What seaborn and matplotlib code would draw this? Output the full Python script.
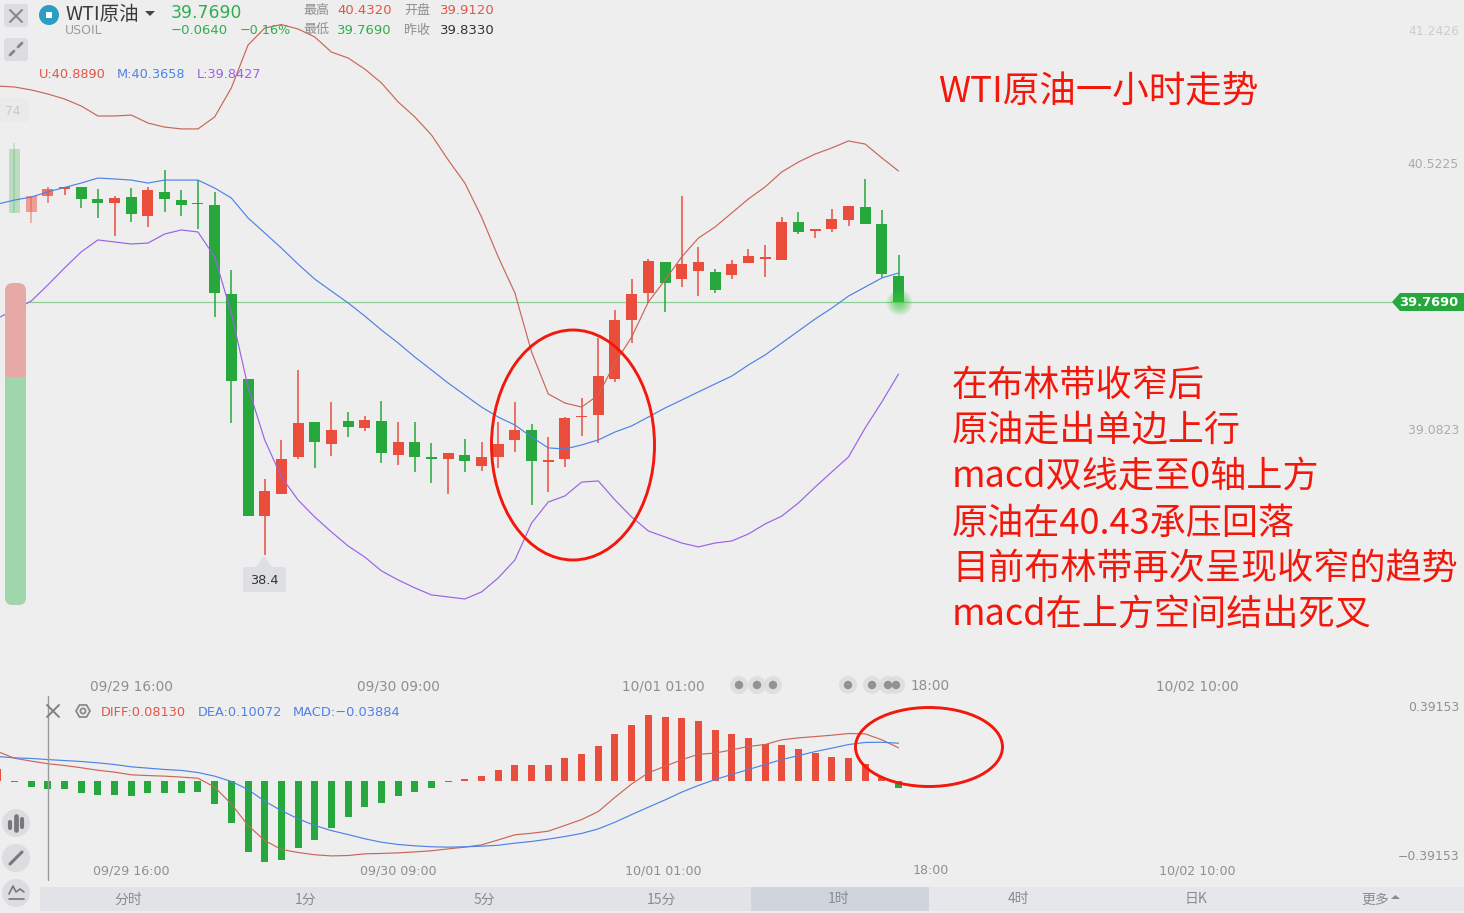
import matplotlib
matplotlib.use("Agg")
import matplotlib.pyplot as plt
import seaborn as sns
import numpy as np
import pandas as pd
from matplotlib.patches import FancyBboxPatch, Ellipse, Polygon, Circle, Rectangle

# ---------- data ----------
opens = [40.598,40.257,40.344,40.382,40.393,40.328,40.306,40.338,40.236,40.366,40.322,40.306,40.295,39.813,39.353,38.611,38.731,38.931,39.120,39.001,39.126,39.088,39.126,38.942,39.012,38.931,38.920,38.942,38.882,38.931,39.023,39.077,38.904,38.920,39.147,39.158,39.353,39.673,39.819,39.987,39.894,39.938,39.932,39.916,39.981,40.003,39.997,40.203,40.154,40.165,40.214,40.284,40.192,39.912]
closes = [40.252,40.344,40.382,40.390,40.328,40.306,40.333,40.246,40.376,40.328,40.295,40.300,39.819,39.342,38.611,38.747,38.920,39.115,39.012,39.077,39.093,39.131,38.952,39.012,38.931,38.920,38.952,38.909,38.931,39.001,39.077,38.909,38.914,39.142,39.153,39.369,39.673,39.813,39.992,39.873,39.976,39.987,39.835,39.976,40.019,40.014,40.203,40.149,40.165,40.219,40.290,40.192,39.922,39.769]
highs = [40.631,40.344,40.393,40.395,40.393,40.382,40.344,40.387,40.393,40.485,40.376,40.430,40.366,39.943,39.353,38.812,39.023,39.402,39.120,39.229,39.174,39.153,39.234,39.120,39.120,39.007,38.952,39.028,39.012,39.120,39.229,39.109,39.039,39.147,39.250,39.575,39.727,39.894,40.003,39.987,40.344,40.068,39.949,39.997,40.057,40.079,40.230,40.257,40.165,40.273,40.290,40.436,40.268,40.024]
lows = [40.252,40.198,40.306,40.349,40.279,40.225,40.127,40.203,40.176,40.257,40.236,40.165,39.689,39.115,38.611,38.400,38.731,38.920,38.871,38.936,39.039,39.072,38.898,38.887,38.850,38.790,38.731,38.850,38.855,38.871,38.958,38.671,38.741,38.877,39.044,39.007,39.337,39.548,39.764,39.716,39.851,39.802,39.819,39.894,39.981,39.905,39.997,40.138,40.116,40.149,40.181,40.192,39.900,39.769]

# band and MACD series start one bar earlier than the visible candles
upper = [40.939,40.934,40.918,40.896,40.869,40.831,40.777,40.777,40.782,40.739,40.717,40.707,40.707,40.772,40.929,41.161,41.253,41.272,41.248,41.205,41.123,41.091,41.031,40.956,40.853,40.772,40.674,40.539,40.414,40.230,40.014,39.819,39.499,39.272,39.223,39.201,39.266,39.440,39.580,39.770,39.889,40.014,40.116,40.176,40.252,40.328,40.393,40.474,40.528,40.571,40.604,40.642,40.625,40.550,40.479]
middle = [40.300,40.322,40.338,40.366,40.390,40.414,40.441,40.436,40.430,40.414,40.430,40.430,40.430,40.387,40.333,40.225,40.144,40.062,39.975,39.894,39.829,39.765,39.694,39.618,39.548,39.472,39.402,39.331,39.266,39.201,39.147,39.104,39.039,38.980,38.974,38.996,39.023,39.066,39.099,39.147,39.196,39.239,39.283,39.326,39.369,39.429,39.483,39.548,39.613,39.678,39.737,39.802,39.851,39.900,39.927]
lower = [39.683,39.727,39.775,39.862,39.954,40.041,40.106,40.095,40.084,40.089,40.138,40.160,40.149,40.014,39.710,39.310,39.023,38.823,38.698,38.606,38.525,38.449,38.389,38.314,38.265,38.222,38.184,38.173,38.162,38.200,38.276,38.373,38.573,38.687,38.720,38.795,38.801,38.698,38.606,38.530,38.498,38.465,38.444,38.465,38.476,38.514,38.568,38.611,38.682,38.768,38.850,38.931,39.088,39.229,39.380]

macd_hist = [0.063,-0.008,-0.032,-0.042,-0.047,-0.063,-0.074,-0.074,-0.079,-0.068,-0.063,-0.063,-0.058,-0.121,-0.221,-0.373,-0.431,-0.415,-0.357,-0.310,-0.252,-0.194,-0.137,-0.116,-0.079,-0.058,-0.037,-0.008,0.008,0.026,0.053,0.084,0.084,0.084,0.116,0.137,0.179,0.242,0.294,0.342,0.336,0.331,0.315,0.268,0.242,0.221,0.194,0.189,0.168,0.147,0.126,0.116,0.089,0.016,-0.039]
diff_line = [0.152,0.117,0.102,0.088,0.079,0.067,0.054,0.044,0.030,0.026,0.023,0.018,0.012,-0.035,-0.123,-0.236,-0.315,-0.362,-0.378,-0.390,-0.396,-0.394,-0.385,-0.383,-0.380,-0.375,-0.369,-0.359,-0.350,-0.338,-0.312,-0.285,-0.277,-0.266,-0.236,-0.205,-0.163,-0.088,-0.018,0.040,0.075,0.109,0.138,0.144,0.161,0.179,0.189,0.214,0.224,0.231,0.238,0.247,0.245,0.214,0.172]
dea_line = [0.126,0.119,0.116,0.110,0.105,0.100,0.093,0.084,0.072,0.065,0.058,0.053,0.042,0.023,-0.005,-0.047,-0.109,-0.158,-0.201,-0.236,-0.263,-0.284,-0.306,-0.324,-0.336,-0.343,-0.348,-0.350,-0.348,-0.345,-0.340,-0.329,-0.320,-0.308,-0.294,-0.278,-0.254,-0.219,-0.179,-0.140,-0.102,-0.061,-0.026,0.005,0.032,0.058,0.084,0.110,0.131,0.152,0.170,0.189,0.200,0.201,0.196]

time_ticks = [7, 23, 38.9, 54.9, 70.9]
time_labels = ["09/29 16:00", "09/30 09:00", "10/01 01:00", "18:00", "10/02 10:00"]
price_ticks = [41.2426, 40.5225, 39.0823]
macd_ticks = [0.39153, -0.39153]
last_price = 39.769
period_tabs = ["分时", "1分", "5分", "15分", "1时", "4时", "日K", "更多"]
story = ["在布林带收窄后", "原油走出单边上行", "macd双线走至0轴上方", "原油在40.43承压回落",
         "目前布林带再次呈现收窄的趋势", "macd在上方空间结出死叉"]

# ---------- style ----------
BG = "#EEEEEE"
RED = "#EB4D3D"
GREEN = "#27A83C"
UP_LINE = "#C9665A"
MID_LINE = "#4F82E6"
LOW_LINE = "#9A62E6"
MARK = "#F3180C"
LATIN = "DejaVu Sans"

sns.set_theme(style="white", rc={"figure.facecolor": BG, "axes.facecolor": BG})
plt.rcParams["font.family"] = ["Noto Sans CJK SC", "DejaVu Sans"]

W, H = 1464, 913
fig = plt.figure(figsize=(W / 100, H / 100), dpi=100)

XL = (-0.869, 86.9)
ax = fig.add_axes([0, 1 - 676 / H, 1, 676 / H])
ax_m = fig.add_axes([0, 1 - 862 / H, 1, (862 - 696) / H])
ax_m.patch.set_alpha(0)

# ---------- candles ----------
idx = np.arange(len(opens))
line_idx = np.arange(-1, len(opens))
fade = {0: 0.25, 1: 0.5, 2: 0.75}
for i, o, c, h, l in zip(idx, opens, closes, highs, lows):
    col = RED if c >= o else GREEN
    a = fade.get(i, 1)
    ax.vlines(i, l, h, color=col, lw=1.1, alpha=a, zorder=3)
    ax.bar(i, max(abs(c - o), 0.008), bottom=min(o, c), width=0.66, color=col, alpha=a, zorder=3, lw=0)

# ---------- bands ----------
sns.lineplot(x=line_idx, y=upper, ax=ax, color=UP_LINE, lw=0.85, estimator=None, zorder=4)
sns.lineplot(x=line_idx, y=middle, ax=ax, color=MID_LINE, lw=0.85, estimator=None, zorder=4)
sns.lineplot(x=line_idx, y=lower, ax=ax, color=LOW_LINE, lw=0.85, estimator=None, zorder=4)

ax.hlines(last_price, 0.7, 82.6, color="#8CCF98", lw=0.9, zorder=2)
for r in range(13, 1, -1):
    ax.scatter([53], [last_price], s=(2 * r * 0.72) ** 2, color="#3CCB3C", alpha=0.08, lw=0, zorder=5)

ax.set_xlim(*XL)
ax.set_ylim(37.745, 41.405)
ax.set_xticks(time_ticks, time_labels)
ax.yaxis.tick_right()
ax.set_yticks(price_ticks, [f"{v:.4f}" for v in price_ticks])
ax.tick_params(axis="x", length=0, pad=2.2, labelsize=9.8, labelcolor="#8F8F8F")
ax.tick_params(axis="y", length=0, pad=-3.6, labelsize=8.9, labelcolor="#ABABAB")
for lab in ax.get_yticklabels():
    lab.set_ha("right")
    lab.set_family(LATIN)
ax.get_yticklabels()[0].set_color("#CDCDCD")
for lab in ax.get_xticklabels():
    lab.set_family(LATIN)
sns.despine(ax=ax, left=True, bottom=True, right=True, top=True)
ax.set_xlabel("")
ax.set_ylabel("")

# ---------- MACD panel ----------
hist_df = pd.DataFrame({"i": line_idx, "v": macd_hist, "side": ["up" if v >= 0 else "down" for v in macd_hist]})
sns.barplot(data=hist_df, x="i", y="v", hue="side", palette={"up": RED, "down": GREEN}, native_scale=True,
            dodge=False, width=0.42, legend=False, ax=ax_m, linewidth=0, zorder=2, saturation=1)
sns.lineplot(x=line_idx, y=diff_line, ax=ax_m, color=UP_LINE, lw=0.85, estimator=None, zorder=4)
sns.lineplot(x=line_idx, y=dea_line, ax=ax_m, color=MID_LINE, lw=0.85, estimator=None, zorder=4)
ax_m.set_xlim(*XL)
ax_m.set_ylim(-0.428, 0.444)
ax_m.set_xticks(time_ticks, time_labels)
ax_m.yaxis.tick_right()
ax_m.set_yticks(macd_ticks, ["0.39153", "\u22120.39153"])
ax_m.tick_params(axis="x", length=0, pad=1.6, labelsize=9.1, labelcolor="#8F8F8F")
ax_m.tick_params(axis="y", length=0, pad=-3.6, labelsize=8.9, labelcolor="#8F8F8F")
for lab in ax_m.get_yticklabels() + ax_m.get_xticklabels():
    lab.set_family(LATIN)
for lab in ax_m.get_yticklabels():
    lab.set_ha("right")
sns.despine(ax=ax_m, left=True, bottom=True, right=True, top=True)
ax_m.set_xlabel("")
ax_m.set_ylabel("")

# ---------- page furniture in pixel space ----------
ui = fig.add_axes([0, 0, 1, 1], zorder=10)
ui.set_xlim(0, W)
ui.set_ylim(H, 0)
ui.axis("off")
ui.patch.set_alpha(0)


def T(x, y, s, size, color, ha="left", family=None, **kw):
    # DejaVu digits and Noto ideographs both sit a little high when centred
    dy = 1.5 if family == LATIN else 1.0
    ui.text(x, y + dy, s, fontsize=size, color=color, ha=ha, va="center",
            family=family if family else ["Noto Sans CJK SC", "DejaVu Sans"], **kw)


def rbox(x0, y0, x1, y1, r, color, z=1, alpha=1):
    p = FancyBboxPatch((x0 + r, y0 + r), x1 - x0 - 2 * r, y1 - y0 - 2 * r, boxstyle=f"round,pad={r},rounding_size={r}",
                       fc=color, ec="none", zorder=z, alpha=alpha)
    ui.add_patch(p)
    return p


# side gauge
rbox(5, 283, 26, 605, 8, "#E6A9A5")
g = rbox(5, 283, 26, 605, 8, "#9FD6AA", z=2)
g.set_clip_path(Rectangle((0, 377), 40, 300, transform=ui.transData))

# corner buttons
rbox(4, 4, 28, 27, 3, "#DDDDE1")
rbox(4, 38, 28, 61, 3, "#DDDDE1")
ui.plot([10, 22], [10, 22], color="#8A8A8E", lw=1.5, zorder=3)
ui.plot([10, 22], [22, 10], color="#8A8A8E", lw=1.5, zorder=3)
ui.plot([10, 14], [55, 51], color="#85858A", lw=2, zorder=3)
ui.plot([18, 22], [47, 43], color="#85858A", lw=2, zorder=3)

# instrument header
ui.add_patch(Circle((49, 15), 10, fc="#2A9DC2", ec="none"))
ui.add_patch(Rectangle((46, 12), 6, 6, fc="white", ec="none", zorder=3))
T(65, 13, "WTI原油", 14, "#3A3A3E", fontweight="medium")
T(65, 29.5, "USOIL", 9.0, "#9A9AA0", family=LATIN)
ui.add_patch(Polygon([(145, 11), (155, 11), (150, 16)], fc="#444448", ec="none"))
T(171, 11, "39.7690", 12.4, "#2FAE4E", family=LATIN)
T(171, 29.5, "\u22120.0640", 9.5, "#2FAE4E", family=LATIN)
T(240, 29.5, "\u22120.16%", 9.2, "#2FAE4E", family=LATIN)
T(303, 9.5, "最高", 9.4, "#8F8F94")
T(337, 9.5, "40.4320", 9.5, "#E0564A", family=LATIN)
T(404, 9.5, "开盘", 9.4, "#8F8F94")
T(440, 9.5, "39.9120", 9.5, "#E0564A", family=LATIN)
T(303, 29.5, "最低", 9.4, "#8F8F94")
T(337, 29.5, "39.7690", 9.5, "#2FAE4E", family=LATIN)
T(404, 29.5, "昨收", 9.4, "#8F8F94")
T(440, 29.5, "39.8330", 9.5, "#333333", family=LATIN)

T(39, 72.5, "U:40.8890", 9.3, "#E0564A", family=LATIN)
T(117, 72.5, "M:40.3658", 9.3, "#4F82E6", family=LATIN)
T(197, 72.5, "L:39.8427", 9.3, "#9A62E6", family=LATIN)

# faded price remnant on the left edge
rbox(0, 98, 29, 122, 3, "#EAEAEA")
T(21, 110, "74", 8.9, "#C8C8C8", ha="right", family=LATIN)

# low tooltip
ui.add_patch(Polygon([(264, 556), (272, 567), (256, 567)], fc="#DDDFE3", ec="none"))
rbox(243, 567, 286, 592, 2, "#DDDFE3")
T(264.5, 578.5, "38.4", 9.3, "#333333", ha="center", family=LATIN)

# last price tag
ui.add_patch(Polygon([(1392, 302), (1400, 293), (1464, 293), (1464, 311), (1400, 311)], fc="#27A83C", ec="none"))
T(1429, 300.5, "39.7690", 9.4, "white", ha="center", family=LATIN, fontweight="bold")

# event dots on the time axis
for x in [739, 757, 773, 848, 872, 888, 896]:
    ui.add_patch(Circle((x, 685), 9, fc="#DADADA", ec="none", alpha=0.75, zorder=1))
for x in [739, 757, 773, 848, 872, 888, 896]:
    ui.add_patch(Circle((x, 685), 4.2, fc="#929292", ec="none", zorder=2))

# MACD header
ui.plot([48, 48], [696, 880], color="#9A9A9E", lw=1, zorder=1)
ui.plot([47, 59], [705, 717], color="#808084", lw=1.4)
ui.plot([47, 59], [717, 705], color="#808084", lw=1.4)
ui.add_patch(Polygon([(76, 711), (79.5, 705), (86.5, 705), (90, 711), (86.5, 717), (79.5, 717)], fc="none", ec="#8A8A8E", lw=1.3))
ui.add_patch(Circle((83, 711), 2.6, fc="none", ec="#8A8A8E", lw=1.3))
T(101, 710.5, "DIFF:0.08130", 9.3, "#E0564A", family=LATIN)
T(198, 710.5, "DEA:0.10072", 9.3, "#4F82E6", family=LATIN)
T(293, 710.5, "MACD:\u22120.03884", 9.4, "#4F82E6", family=LATIN)

# round tool buttons
for y in [823, 858, 893]:
    ui.add_patch(Circle((16, y), 14, fc="#DDDDE1", ec="none"))
ui.plot([10, 10], [822, 828], color="#77777C", lw=3, zorder=3)
ui.plot([16, 16], [816, 830], color="#77777C", lw=3.4, zorder=3)
ui.plot([22, 22], [819, 827], color="#77777C", lw=3, zorder=3)
ui.plot([10, 22], [864, 852], color="#77777C", lw=2.2, zorder=3)
ui.plot([9, 13, 16, 20, 24], [894, 886, 892, 889, 892], color="#77777C", lw=1.2, zorder=3)
ui.plot([9, 24], [899, 899], color="#77777C", lw=1.2, zorder=3)

# period tabs
ui.add_patch(Rectangle((40, 887), 889, 24, fc="#E2E3E7", ec="none"))
ui.add_patch(Rectangle((929, 887), 535, 24, fc="#E6E7EA", ec="none"))
ui.add_patch(Rectangle((751, 887), 178, 24, fc="#D0D4DC", ec="none"))
for x, s in zip([128, 306, 484, 661, 839, 1018, 1196, 1375], period_tabs):
    T(x, 898.5, s, 10, "#8A8A90", ha="center")
ui.add_patch(Polygon([(1391, 899), (1400, 899), (1395.5, 895)], fc="#8A8A90", ec="none"))

# hand-drawn commentary
ui.add_patch(Ellipse((573, 445), 163, 230, fc="none", ec=MARK, lw=2.1, zorder=6))
ui.add_patch(Ellipse((929, 747), 147, 79, fc="none", ec=MARK, lw=2.1, zorder=6))
T(938, 91, "WTI原油一小时走势", 26.3, MARK, zorder=7)
for y, s in zip([384.5, 430.5, 476.5, 522.5, 568.5, 614.5], story):
    T(952, y, s, 26, MARK, zorder=7)

fig.savefig("out.png", dpi=100, facecolor=BG)
